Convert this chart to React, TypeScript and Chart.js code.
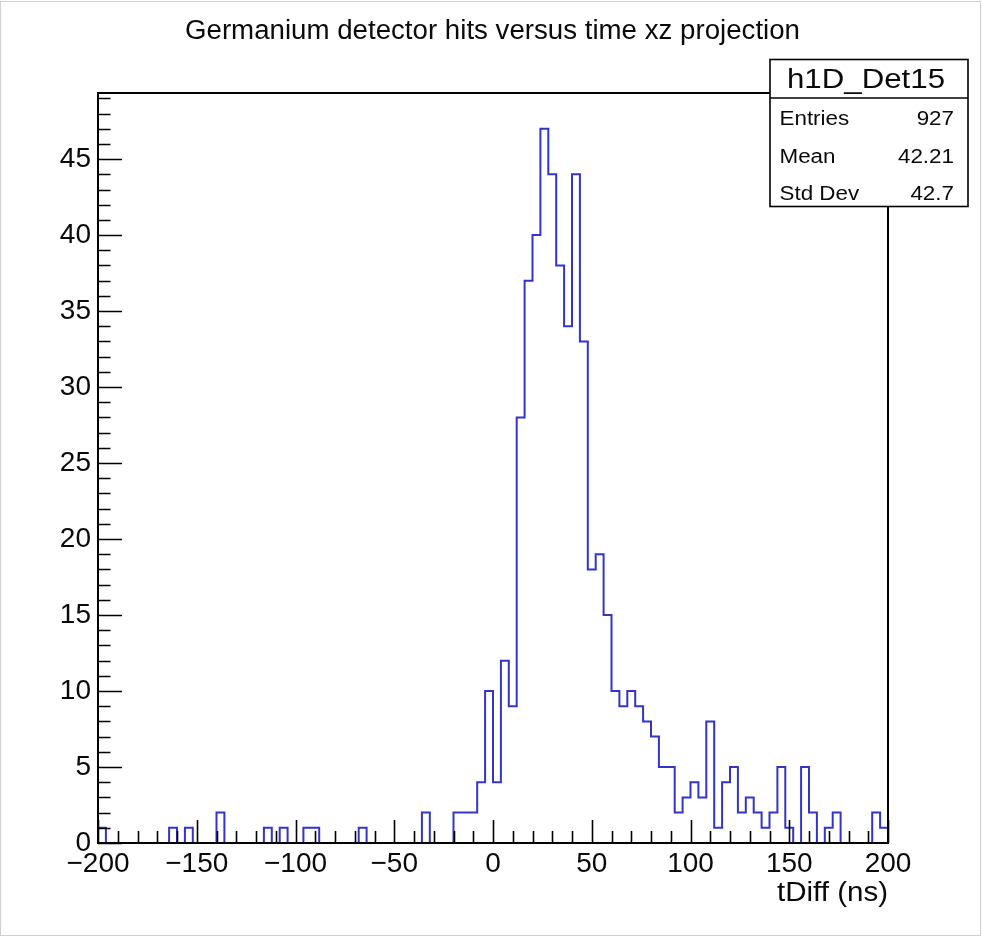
import React, { useEffect, useRef } from 'react';
import { Chart, registerables } from 'chart.js';

Chart.register(...registerables);

// ---- data ----
const X_MIN = -200;
const X_MAX = 200;
const BIN_WIDTH = 4;
const Y_MAX = 49.35;

// counts per 4 ns bin, from -200 to 200 ns (100 bins)
const counts = [
  1, 0, 0, 0, 0, 0, 0, 0, 0, 1,
  0, 1, 0, 0, 0, 2, 0, 0, 0, 0,
  0, 1, 0, 1, 0, 0, 1, 1, 0, 0,
  0, 0, 0, 1, 0, 0, 0, 0, 0, 0,
  0, 2, 0, 0, 0, 2, 2, 2, 4, 10,
  4, 12, 9, 28, 37, 40, 47, 44, 38, 34,
  44, 33, 18, 19, 15, 10, 9, 10, 9, 8,
  7, 5, 5, 2, 3, 4, 3, 8, 1, 4,
  5, 2, 3, 2, 1, 2, 5, 1, 0, 5,
  2, 0, 1, 2, 0, 0, 0, 0, 2, 1,
];

const X_MAJOR_STEP = 50;
const X_MINOR_STEP = 10;
const Y_MAJOR_STEP = 5;
const Y_MINOR_STEP = 1;

const titleText = 'Germanium detector hits versus time xz projection';
const histName = 'h1D_Det15';
const statsLabels = ['Entries', 'Mean', 'Std Dev'];
const statsValues = ['927', '42.21', '42.7'];
const xAxisTitle = 'tDiff (ns)';

const FONT = '"Liberation Sans", Arial, Helvetica, sans-serif';
const LINE_COLOR = '#3434c8';
const TEXT_COLOR = '#0a0a0a';

function drawText(
  ctx: CanvasRenderingContext2D,
  text: string,
  x: number,
  y: number,
  size: number,
  align: 'left' | 'right' | 'center',
  opts: { width?: number; sx?: number } = {}
) {
  ctx.save();
  ctx.font = `${size}px ${FONT}`;
  ctx.textBaseline = 'alphabetic';
  ctx.textAlign = 'left';
  const w = ctx.measureText(text).width;
  const sx = opts.width ? opts.width / w : opts.sx ?? 1;
  const tw = w * sx;
  const left = align === 'left' ? x : align === 'right' ? x - tw : x - tw / 2;
  ctx.translate(left, y);
  ctx.scale(sx, 1);
  ctx.fillStyle = TEXT_COLOR;
  ctx.fillText(text, 0, 0);
  ctx.restore();
}

const rootStylePlugin = {
  id: 'rootStyle',
  beforeDraw(chart: any) {
    const ctx = chart.ctx as CanvasRenderingContext2D;
    ctx.save();
    ctx.fillStyle = '#ffffff';
    ctx.fillRect(0, 0, chart.width, chart.height);
    ctx.strokeStyle = '#cfcfcf';
    ctx.lineWidth = 1;
    ctx.strokeRect(0.5, 1.5, chart.width - 2, chart.height - 3);
    ctx.restore();
  },
  afterDatasetsDraw(chart: any) {
    const ctx = chart.ctx as CanvasRenderingContext2D;
    const { left, right, top, bottom } = chart.chartArea;
    const xs = chart.scales.x;
    const ys = chart.scales.y;
    ctx.save();
    ctx.strokeStyle = '#000000';
    ctx.lineWidth = 1.6;
    ctx.beginPath();
    for (let v = X_MIN; v <= X_MAX + 1e-9; v += X_MINOR_STEP) {
      const px = Math.round(xs.getPixelForValue(v)) + 0.5;
      const len = v % X_MAJOR_STEP === 0 ? 23 : 12;
      ctx.moveTo(px, bottom);
      ctx.lineTo(px, bottom - len);
    }
    for (let v = 0; v <= Y_MAX + 1e-9; v += Y_MINOR_STEP) {
      const py = Math.round(ys.getPixelForValue(v)) + 0.5;
      const len = v % Y_MAJOR_STEP === 0 ? 24 : 12.5;
      ctx.moveTo(left, py);
      ctx.lineTo(left + len, py);
    }
    ctx.stroke();
    ctx.lineWidth = 2;
    ctx.strokeRect(left, top, right - left, bottom - top);
    ctx.restore();
  },
  afterDraw(chart: any) {
    const ctx = chart.ctx as CanvasRenderingContext2D;
    const { right } = chart.chartArea;
    drawText(ctx, titleText, 492.5, 39, 27, 'center', { width: 615 });
    drawText(ctx, xAxisTitle, right, 901, 27, 'right', { width: 111 });
    const bx = 770, by = 59.5, bw = 198, bh = 147, div = 98;
    ctx.save();
    ctx.fillStyle = '#ffffff';
    ctx.fillRect(bx, by, bw, bh);
    ctx.strokeStyle = '#000000';
    ctx.lineWidth = 1.6;
    ctx.strokeRect(bx, by, bw, bh);
    ctx.beginPath();
    ctx.moveTo(bx, div);
    ctx.lineTo(bx + bw, div);
    ctx.stroke();
    ctx.restore();
    drawText(ctx, histName, 866, 88, 27, 'center', { width: 158 });
    const baselines = [125, 163, 200];
    statsLabels.forEach((lab, i) => {
      drawText(ctx, lab, 779.5, baselines[i], 20, 'left', { sx: 1.12 });
      drawText(ctx, statsValues[i], 954, baselines[i], 20, 'right', { sx: 1.12 });
    });
  },
};

export default function App() {
  const canvasRef = useRef<HTMLCanvasElement | null>(null);

  useEffect(() => {
    document.body.style.margin = '0';
    const canvas = canvasRef.current;
    if (!canvas) return;

    const points: { x: number; y: number }[] = [{ x: X_MIN, y: 0 }];
    counts.forEach((c, k) => points.push({ x: X_MIN + k * BIN_WIDTH, y: c }));
    points.push({ x: X_MAX, y: 0 });

    const chart = new Chart(canvas, {
      type: 'line',
      data: {
        datasets: [
          {
            data: points,
            stepped: true,
            borderColor: LINE_COLOR,
            borderWidth: 2,
            pointRadius: 0,
            fill: false,
            tension: 0,
          },
        ],
      },
      options: {
        responsive: false,
        animation: false,
        devicePixelRatio: 1,
        layout: { padding: { left: 0, top: 93, right: 94, bottom: 0 } },
        plugins: {
          legend: { display: false },
          tooltip: { enabled: false },
          title: { display: false },
        },
        scales: {
          x: {
            type: 'linear',
            min: X_MIN,
            max: X_MAX,
            grid: { display: false, drawTicks: false },
            border: { display: false },
            ticks: {
              stepSize: X_MAJOR_STEP,
              autoSkip: false,
              maxRotation: 0,
              includeBounds: false,
              padding: 4,
              color: TEXT_COLOR,
              font: { family: FONT, size: 28 },
              callback: (v: any) => String(v).replace('-', '\u2212'),
            },
            afterFit: (s: any) => {
              s.height = 94;
            },
          },
          y: {
            type: 'linear',
            min: 0,
            max: Y_MAX,
            grid: { display: false, drawTicks: false },
            border: { display: false },
            ticks: {
              stepSize: Y_MAJOR_STEP,
              autoSkip: false,
              includeBounds: false,
              padding: 7,
              color: TEXT_COLOR,
              font: { family: FONT, size: 28 },
            },
            afterFit: (s: any) => {
              s.width = 98;
            },
          },
        },
      } as any,
      plugins: [rootStylePlugin],
    });

    return () => chart.destroy();
  }, []);

  return (
    <div style={{ position: 'absolute', left: 0, top: 0, width: 982, height: 937 }}>
      <canvas ref={canvasRef} width={982} height={937} style={{ width: 982, height: 937, display: 'block' }} />
    </div>
  );
}
